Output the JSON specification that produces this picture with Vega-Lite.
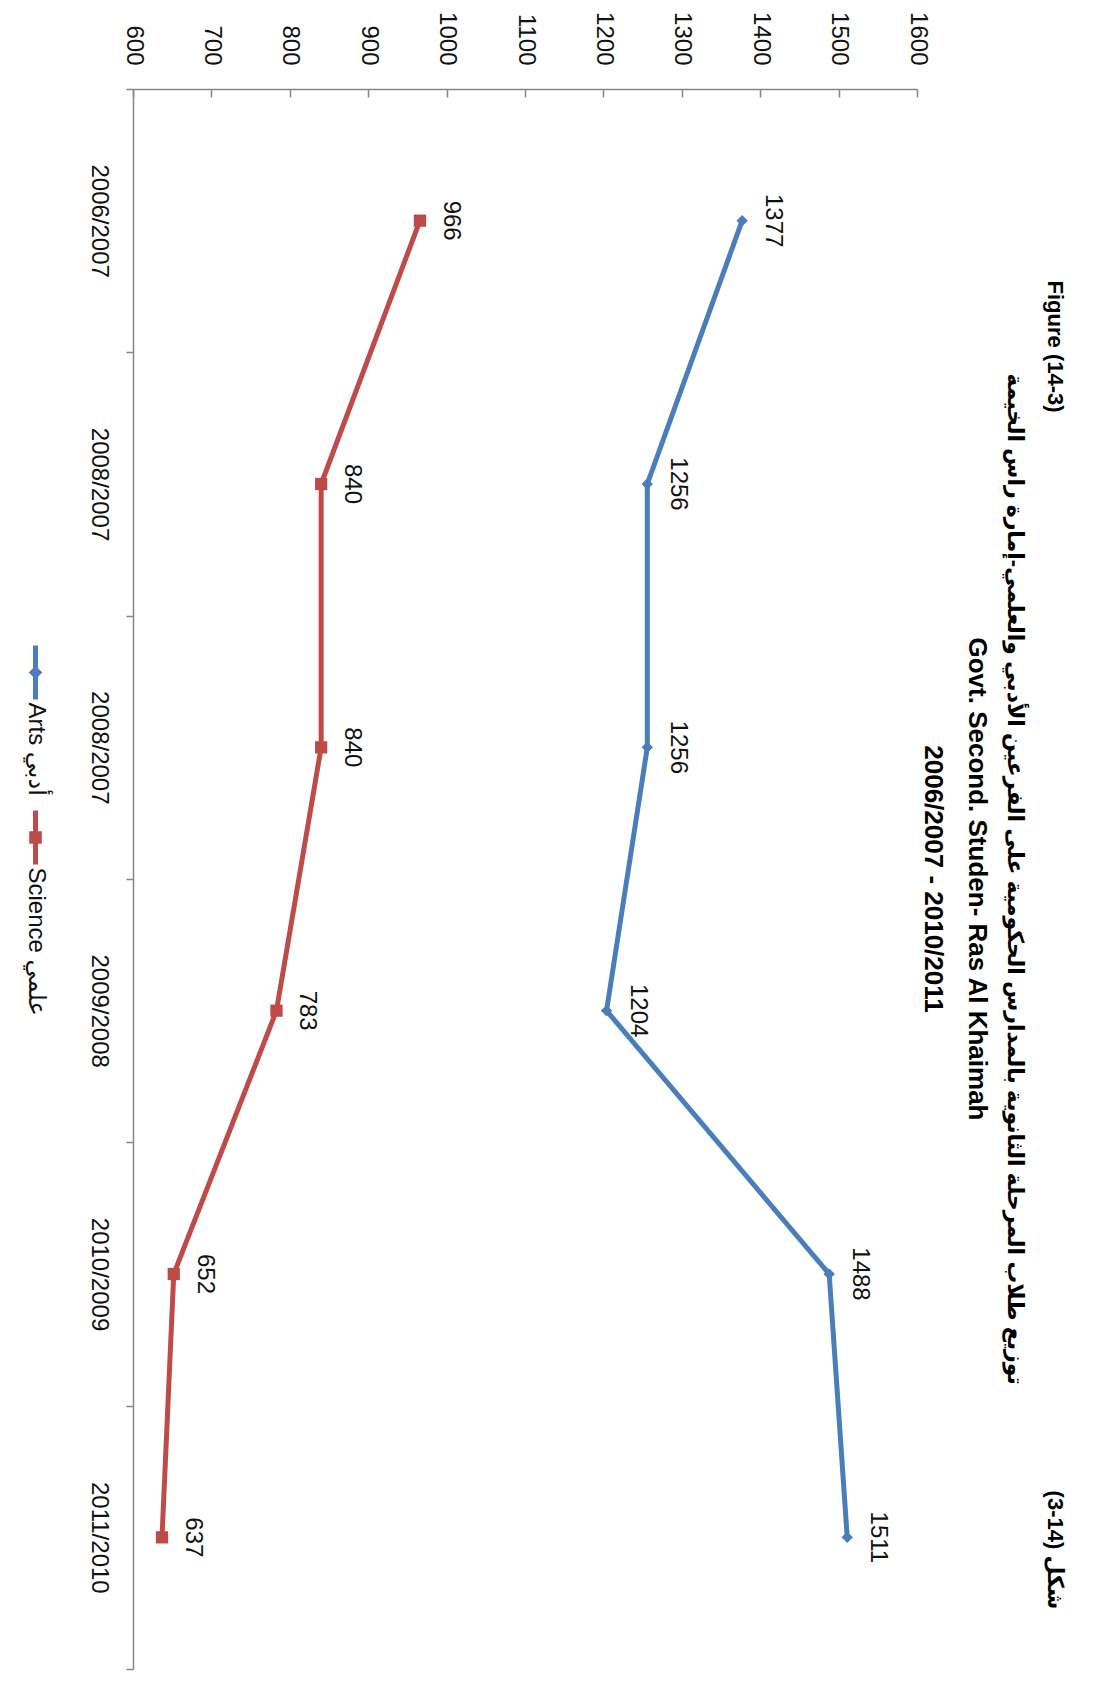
{
  "$schema": "https://vega.github.io/schema/vega-lite/v6.json",
  "width": 784,
  "height": 1580,
  "autosize": {"type": "none"},
  "padding": {"left": 133, "top": 89, "right": 185, "bottom": 17},
  "background": "white",
  "config": {
    "view": {"stroke": null},
    "font": "Liberation Sans, DejaVu Sans, sans-serif"
  },
  "title": {
    "text": [
      "\u200b\u2003\u2003\u2003\u2003\u2003\u2003Figure (14-3)\u2003\u2003\u2003\u2003\u2003\u2003\u2003\u2003\u2003\u2003\u2003\u2003\u2003\u2003\u2003\u2003\u2003\u2003\u2003\u2003\u2003\u2003\u2003\u2003\u2003\u2003\u2003\u2003\u2003\u2003\u2003\u2003\u2003\u2003\u2003\u2003\u2003\u2003\u2003\u2003\u2003\u2003\u2003\u2003\u2003\u2003\u2003\u2003\u2003(3-14) شكل",
      "توزيع طلاب المرحلة الثانوية بالمدارس الحكومية على الفرعين الأدبي والعلمي-إمارة راس الخيمة"
    ],
    "subtitle": [
      "Govt. Second. Studen- Ras Al Khaimah",
      "2006/2007 - 2010/2011"
    ],
    "orient": "right",
    "anchor": "middle",
    "frame": "group",
    "font": "Liberation Sans, DejaVu Sans, sans-serif",
    "fontSize": 22,
    "fontWeight": "bold",
    "lineHeight": 40,
    "subtitleFont": "Liberation Sans, DejaVu Sans, sans-serif",
    "subtitleFontSize": 26,
    "subtitleFontWeight": "bold",
    "subtitleLineHeight": 44,
    "subtitlePadding": 13,
    "subtitleColor": "#000000",
    "offset": -10,
    "color": "#000000"
  },
  "data": {
    "values": [
      {"slot": "1|2006/2007", "series": "Arts أدبي", "students": 1377},
      {"slot": "2|2008/2007", "series": "Arts أدبي", "students": 1256},
      {"slot": "3|2008/2007", "series": "Arts أدبي", "students": 1256},
      {"slot": "4|2009/2008", "series": "Arts أدبي", "students": 1204},
      {"slot": "5|2010/2009", "series": "Arts أدبي", "students": 1488},
      {"slot": "6|2011/2010", "series": "Arts أدبي", "students": 1511},
      {"slot": "1|2006/2007", "series": "Science علمي", "students": 966},
      {"slot": "2|2008/2007", "series": "Science علمي", "students": 840},
      {"slot": "3|2008/2007", "series": "Science علمي", "students": 840},
      {"slot": "4|2009/2008", "series": "Science علمي", "students": 783},
      {"slot": "5|2010/2009", "series": "Science علمي", "students": 652},
      {"slot": "6|2011/2010", "series": "Science علمي", "students": 637}
    ]
  },
  "encoding": {
    "x": {
      "field": "students",
      "type": "quantitative",
      "scale": {"domain": [600, 1600], "nice": false, "zero": false},
      "axis": {
        "orient": "top",
        "title": null,
        "grid": false,
        "format": "d",
        "values": [600, 700, 800, 900, 1000, 1100, 1200, 1300, 1400, 1500, 1600],
        "labelAngle": 90,
        "labelAlign": "right",
        "labelBaseline": "middle",
        "labelFontSize": 24,
        "labelColor": "#111111",
        "labelFlush": false,
        "labelOverlap": false,
        "tickSize": -8,
        "labelPadding": 32,
        "domainColor": "#868686",
        "tickColor": "#868686",
        "domainWidth": 1.5,
        "tickWidth": 1.5
      }
    },
    "y": {
      "field": "slot",
      "type": "nominal",
      "sort": "ascending",
      "scale": {"type": "band", "paddingInner": 0, "paddingOuter": 0},
      "axis": {
        "title": null,
        "labelExpr": "split(datum.label, '|')[1]",
        "tickBand": "extent",
        "labelAngle": 90,
        "labelAlign": "center",
        "labelBaseline": "top",
        "labelFontSize": 24,
        "labelColor": "#111111",
        "tickSize": 7,
        "labelPadding": 16,
        "domainColor": "#868686",
        "tickColor": "#868686",
        "domainWidth": 1.5,
        "tickWidth": 1.5
      }
    }
  },
  "layer": [
    {
      "mark": {"type": "line", "strokeWidth": 5},
      "encoding": {
        "color": {
          "field": "series",
          "type": "nominal",
          "scale": {"domain": ["Arts أدبي", "Science علمي"], "range": ["#4A7EBB", "#BE4B48"]},
          "legend": {
            "orient": "none",
            "legendX": -127,
            "legendY": 554,
            "title": null,
            "direction": "vertical",
            "padding": 0,
            "symbolSize": 2916,
            "symbolStrokeWidth": 5,
            "labelFontSize": 24,
            "labelColor": "#111111",
            "labelOffset": 0,
            "rowPadding": 4,
            "encode": {
              "symbols": {
                "update": {
                  "shape": {"signal": "indexof(datum.value, 'Arts') === 0 ? 'M0,-1L0,1M-0.12,0L0,-0.12L0.12,0L0,0.12Z' : 'M0,-1L0,1M-0.14,-0.14L0.14,-0.14L0.14,0.14L-0.14,0.14Z'"},
                  "fill": {"scale": "color", "field": "value"},
                  "stroke": {"scale": "color", "field": "value"},
                  "strokeWidth": {"value": 5}
                }
              },
              "labels": {
                "update": {
                  "angle": {"value": 90},
                  "align": {"value": "left"},
                  "baseline": {"value": "middle"},
                  "dx": {"value": 30},
                  "dy": {"value": 29}
                }
              }
            }
          }
        }
      }
    },
    {
      "transform": [{"filter": "indexof(datum.series, 'Arts') === 0"}],
      "mark": {"type": "point", "shape": "diamond", "filled": true, "opacity": 1, "size": 130},
      "encoding": {
        "color": {"field": "series", "type": "nominal", "legend": null}
      }
    },
    {
      "transform": [{"filter": "indexof(datum.series, 'Science') === 0"}],
      "mark": {"type": "point", "shape": "square", "filled": true, "opacity": 1, "size": 150},
      "encoding": {
        "color": {"field": "series", "type": "nominal", "legend": null}
      }
    },
    {
      "mark": {"type": "text", "angle": 90, "align": "center", "baseline": "middle", "xOffset": 31, "fontSize": 24, "color": "#111111"},
      "encoding": {
        "text": {"field": "students", "type": "quantitative"}
      }
    }
  ]
}
